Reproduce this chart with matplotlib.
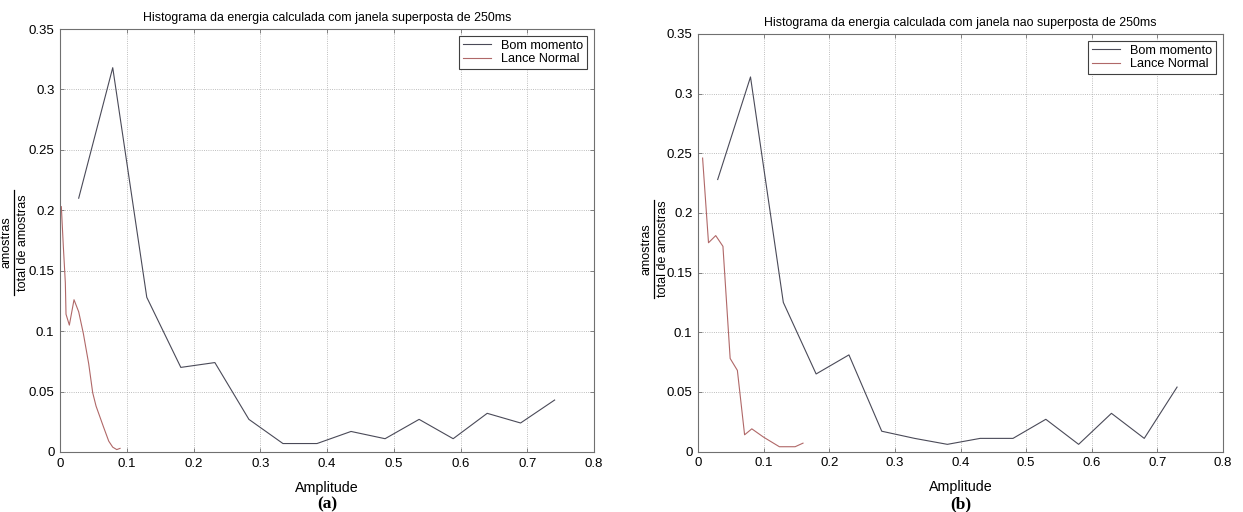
import matplotlib
matplotlib.use("Agg")
import matplotlib.pyplot as plt
from matplotlib import rcParams
from matplotlib.lines import Line2D

# Energy histograms, overlapped (a) and non-overlapped (b) 250 ms windows
bom_x_a = [0.028, 0.079, 0.130, 0.181, 0.232, 0.283, 0.334, 0.385,
           0.436, 0.487, 0.538, 0.589, 0.640, 0.690, 0.741]
bom_y_a = [0.210, 0.318, 0.128, 0.070, 0.074, 0.027, 0.007, 0.007,
           0.017, 0.011, 0.027, 0.011, 0.032, 0.024, 0.043]
lance_x_a = [0.002, 0.005, 0.008, 0.009, 0.014, 0.021, 0.028, 0.035,
             0.043, 0.049, 0.054, 0.065, 0.073, 0.079, 0.085, 0.090]
lance_y_a = [0.203, 0.170, 0.140, 0.114, 0.105, 0.126, 0.116, 0.098,
             0.073, 0.049, 0.038, 0.021, 0.009, 0.004, 0.002, 0.003]

bom_x_b = [0.030, 0.080, 0.130, 0.180, 0.230, 0.280, 0.330, 0.380,
           0.430, 0.480, 0.530, 0.580, 0.630, 0.680, 0.730]
bom_y_b = [0.228, 0.314, 0.125, 0.065, 0.081, 0.017, 0.011, 0.006,
           0.011, 0.011, 0.027, 0.006, 0.032, 0.011, 0.054]
lance_x_b = [0.007, 0.016, 0.027, 0.038, 0.049, 0.060, 0.071, 0.082,
             0.100, 0.124, 0.148, 0.160]
lance_y_b = [0.246, 0.175, 0.181, 0.172, 0.078, 0.068, 0.014, 0.019,
             0.012, 0.004, 0.004, 0.007]

titles = ["Histograma da energia calculada com janela superposta de 250ms",
          "Histograma da energia calculada com janela nao superposta de 250ms"]
tags = ["(a)", "(b)"]
x_ticks = [0, 0.1, 0.2, 0.3, 0.4, 0.5, 0.6, 0.7, 0.8]
y_ticks = [0, 0.05, 0.1, 0.15, 0.2, 0.25, 0.3, 0.35]

BOM_COLOR = "#4a4a58"
LANCE_COLOR = "#b06868"

rcParams.update({
    "font.family": "Liberation Sans",
    "font.size": 9,
})

fig = plt.figure(figsize=(12.43, 5.12), dpi=100)
W, H = 1243, 512
# axes boxes in pixels: left, top, right, bottom
boxes = [(60, 29, 594, 452), (698, 34, 1223, 451.5)]
# y label fraction: numerator x, bar x, denominator x, bar top, bar bottom
fracs = [(6.5, 14, 23, 190, 295), (646.5, 654, 663, 200, 298)]

panels = [
    (bom_x_a, bom_y_a, lance_x_a, lance_y_a),
    (bom_x_b, bom_y_b, lance_x_b, lance_y_b),
]

for i, (bx, by, lx, ly) in enumerate(panels):
    l, t, r, b = boxes[i]
    ax = fig.add_axes([l / W, 1 - b / H, (r - l) / W, (b - t) / H])
    ax.plot(bx, by, color=BOM_COLOR, lw=0.8, label="Bom momento")
    ax.plot(lx, ly, color=LANCE_COLOR, lw=0.8, label="Lance Normal")

    ax.set_xlim(0, 0.8)
    ax.set_ylim(0, 0.35)
    ax.set_xticks(x_ticks)
    ax.set_xticklabels([f"{v:g}" for v in x_ticks])
    ax.set_yticks(y_ticks)
    ax.set_yticklabels([f"{v:g}" for v in y_ticks])
    ax.tick_params(direction="in", top=True, right=True, length=3,
                   width=0.6, color="#707070", labelsize=9.5, pad=4)
    for s in ax.spines.values():
        s.set_color("#707070")
        s.set_linewidth(0.8)
    ax.grid(True, linestyle=":", linewidth=0.6, color="#a8a8a8")

    ax.set_title(titles[i], fontsize=8.9, pad=6)
    ax.set_xlabel("Amplitude", fontsize=10.3, labelpad=8)

    # y label as a stacked fraction: amostras / total de amostras
    nx, bar_x, dx, y0, y1 = fracs[i]
    yc = 1 - ((y0 + y1) / 2) / H
    fig.text(nx / W, yc, "amostras", rotation=90, ha="center", va="center",
             fontsize=9)
    fig.text(dx / W, yc, "total de amostras", rotation=90, ha="center",
             va="center", fontsize=9)
    fig.add_artist(Line2D([bar_x / W, bar_x / W], [1 - y0 / H, 1 - y1 / H],
                          color="black", lw=0.9))

    leg = ax.legend(loc="upper right", fontsize=9.1, frameon=True,
                    fancybox=False, framealpha=1, edgecolor="#404040",
                    handlelength=2.2, borderpad=0.3, labelspacing=0.1,
                    borderaxespad=0.55)
    leg.get_frame().set_linewidth(0.8)

    fig.text(((l + r) / 2) / W, 1 - 504 / H, tags[i], ha="center",
             va="center", fontsize=12.5, fontweight="bold",
             family="Liberation Serif")

fig.savefig("out.png", dpi=100)
